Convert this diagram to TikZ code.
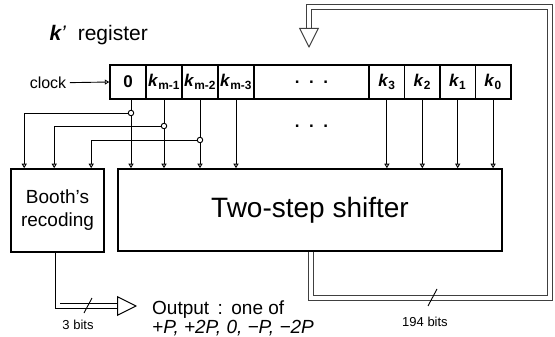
\documentclass[tikz,border=0pt]{standalone}
\usepackage{fontspec}
\setmainfont{Liberation Sans}
\usetikzlibrary{arrows.meta,positioning,backgrounds}

\begin{document}
\begin{tikzpicture}[x=1pt, y=-1pt,
    cell/.style={rectangle, draw, line width=1.4pt, minimum height=34pt, minimum width=36pt, inner sep=0pt, font=\fontsize{17}{17}\selectfont\bfseries},
    block/.style={rectangle, draw, line width=1.6pt, align=center, inner sep=0pt},
    junc/.style={circle, draw, fill=white, line width=0.9pt, inner sep=0pt, minimum size=5.5pt},
    tap/.style={-{Triangle[open, length=4.5pt, width=5pt]}, line width=0.9pt},
    bus/.style={double, double distance=4pt, line width=0.9pt, -{Triangle[open, length=20pt, width=20pt, line width=1pt]}},
    bits/.style={font=\fontsize{13}{13}\selectfont}
]
\useasboundingbox (0,0) rectangle (555,337);

% Register title and clock
\node[font=\fontsize{21}{21}\selectfont, anchor=west] (reglbl) at (46,35) {\textit{\textbf{k}’}\ \ register};
\node[font=\fontsize{16}{16}\selectfont] (clk) at (48,83) {clock};

% k' register cells
\node[cell] (zero) at (128,82) {0};
\node[cell] (km1) at (164,82) {\textit{k}\textsubscript{m-1}};
\node[cell] (km2) at (200,82) {\textit{k}\textsubscript{m-2}};
\node[cell] (km3) at (236,82) {\textit{k}\textsubscript{m-3}};
\node[cell, minimum width=115pt] (dots) at (311.5,82) {.\ \ .\ \ .};
\node[cell, minimum width=35.4pt] (k3) at (386.9,82) {\textit{k}\textsubscript{3}};
\node[cell, minimum width=35.4pt] (k2) at (422.3,82) {\textit{k}\textsubscript{2}};
\node[cell, minimum width=35.4pt] (k1) at (457.7,82) {\textit{k}\textsubscript{1}};
\node[cell, minimum width=35.4pt] (k0) at (493.1,82) {\textit{k}\textsubscript{0}};
\node[font=\fontsize{17}{17}\selectfont\bfseries] (dotsb) at (311.5,126) {.\ \ .\ \ .};

% Recoder and shifter
\node[block, minimum width=93pt, minimum height=83pt, font=\fontsize{19}{23}\selectfont] (booth) at (57.5,210.5) {Booth’s\\recoding};
\node[block, minimum width=384pt, minimum height=82pt, font=\fontsize{28}{28}\selectfont] (shifter) at (310,210) {Two-step shifter};

% Taps feeding the recoder
\node[junc] (j0) at ([xshift=3pt]zero.south |- 0,113) {};
\node[junc] (j1) at (km1.south |- 0,126) {};
\node[junc] (j2) at (km2.south |- 0,140) {};

% Output side
\coordinate (outtip) at (137,306);
\coordinate (fbtr) at (550,7);
\coordinate (fbtip) at (309,48);
\node[bits] (bits3) at (78,325) {3 bits};
\node[bits] (bits194) at (425,322) {194 bits};
\node[anchor=north west, align=left, inner sep=0pt, font=\fontsize{19}{17}\selectfont] (outtxt) at (152,301) {Output\,\ :\,\ one of\\\textit{+P,\ +2P,\ 0,\ −P,\ −2P}};

\begin{scope}[on background layer]
\draw[tap] (clk) -- (zero.west);
\draw[tap] ([xshift=3pt]zero.south) -- ([xshift=3pt]zero.south |- shifter.north);
\foreach \c in {km1,km2,km3,k3,k2,k1,k0}
    \draw[tap] (\c.south) -- (\c.south |- shifter.north);
\draw[tap] (j0.west) -| ([xshift=14pt]booth.north west);
\draw[tap] (j1.west) -| ([xshift=44pt]booth.north west);
\draw[tap] (j2.west) -| ([xshift=81pt]booth.north west);
% buses
\draw[bus] (booth.south) |- (outtip);
\draw[bus, black!75] ([xshift=1pt]shifter.south) -- ++(0,46) -| (fbtr) -| (fbtip);
\end{scope}
\draw[line width=0.9pt] (84,313) -- (92,298);
\draw[line width=0.9pt] (428,306) -- (437,289);
\end{tikzpicture}
\end{document}
